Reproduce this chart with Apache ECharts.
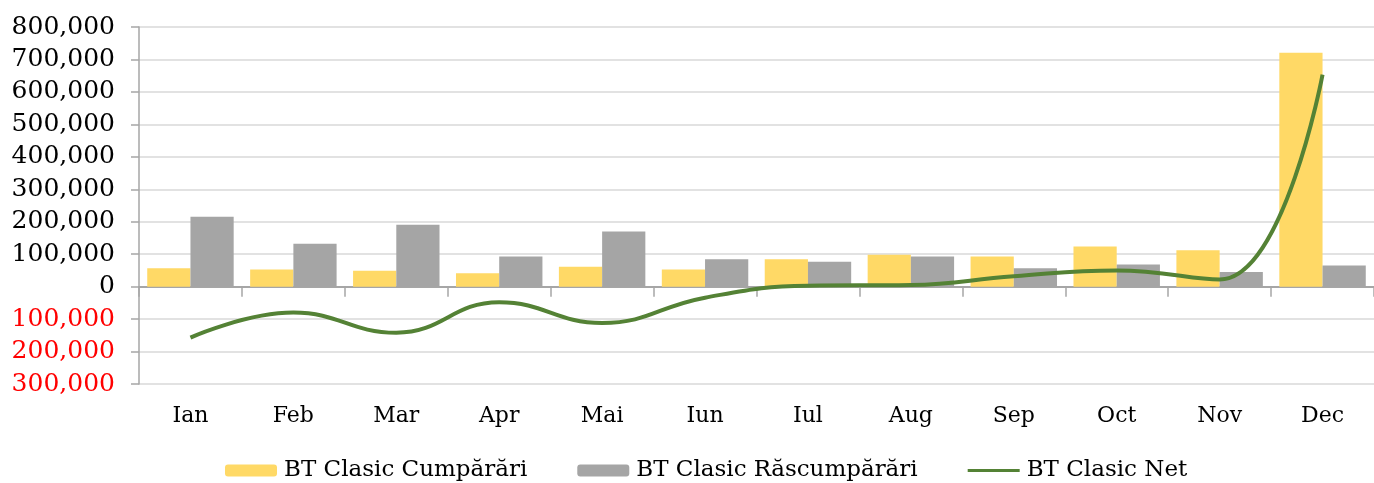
<!DOCTYPE html>
<html><head><meta charset="utf-8">
<script src="https://cdn.jsdelivr.net/npm/echarts@6/dist/echarts.min.js"></script>
<style>html,body{margin:0;padding:0;background:#fff}#c{width:1374px;height:483px}</style>
</head><body><div id="c"></div>
<script>
const months = ['Ian','Feb','Mar','Apr','Mai','Iun','Iul','Aug','Sep','Oct','Nov','Dec'];
const cumparari = [57000, 53000, 49000, 41000, 61000, 53000, 84000, 98000, 92500, 124000, 112000, 721000];
const rascumparari = [215000, 132500, 191000, 92500, 170000, 84000, 77000, 92500, 56500, 68500, 45000, 65000];
const net = [-157000, -80000, -142000, -48000, -112000, -34000, 3000, 5000, 32000, 50000, 22000, 653000];
const seriesNames = ['BT Clasic Cumpărări', 'BT Clasic Răscumpărări', 'BT Clasic Net'];
const yMin = -300000, yMax = 800000, yStep = 100000;

const FONT = 'DejaVu Serif';
const fmt = v => Math.abs(v).toString().replace(/\B(?=(\d{3})+(?!\d))/g, ',');
const chart = echarts.init(document.getElementById('c'), null, {renderer: 'canvas'});
chart.setOption({
  animation: false,
  backgroundColor: '#fff',
  grid: {left: 139, right: 0, top: 27, bottom: 99, containLabel: false},
  legend: {
    top: 454, left: 220, itemGap: 50, itemWidth: 52, itemHeight: 12,
    textStyle: {fontFamily: FONT, fontSize: 23, color: '#000', padding: [0, 0, 0, 2]},
    data: [
      {name: seriesNames[0]},
      {name: seriesNames[1]},
      {name: seriesNames[2], icon: 'path://M0,0 M52,12 M0,4.5 L52,4.5 L52,7.5 L0,7.5 Z'}
    ]
  },
  xAxis: [
    {
      type: 'category', data: months, position: 'bottom',
      axisLine: {show: true, onZero: true, lineStyle: {color: '#A6A6A6', width: 2}},
      axisTick: {show: true, length: 10, lineStyle: {color: '#A6A6A6', width: 1.5}},
      axisLabel: {show: false}, splitLine: {show: false}
    },
    {
      type: 'category', data: months, position: 'bottom', offset: 0,
      axisLine: {show: false, onZero: false}, axisTick: {show: false},
      axisLabel: {show: true, margin: 21, fontFamily: FONT, fontSize: 22, color: '#000'},
      splitLine: {show: false}
    }
  ],
  yAxis: {
    type: 'value', min: yMin, max: yMax, interval: yStep,
    axisLine: {show: true, lineStyle: {color: '#A6A6A6', width: 1.5}},
    axisTick: {show: true, length: 8, lineStyle: {color: '#A6A6A6', width: 1.5}},
    axisLabel: {
      margin: 24, fontFamily: FONT, fontSize: 25,
      formatter: v => fmt(v),
      color: v => (Number(v) < 0 ? '#FF0000' : '#000')
    },
    splitLine: {show: true, lineStyle: {color: '#D9D9D9', width: 1.5}}
  },
  series: [
    {
      name: seriesNames[0], type: 'bar', data: cumparari, xAxisIndex: 0,
      barGap: '0%', barCategoryGap: '16%',
      itemStyle: {color: '#FFD966'}
    },
    {
      name: seriesNames[1], type: 'bar', data: rascumparari, xAxisIndex: 0,
      barGap: '0%', barCategoryGap: '16%',
      itemStyle: {color: '#A5A5A5'}
    },
    {
      name: seriesNames[2], type: 'line', data: net, xAxisIndex: 0,
      smooth: 0.45, symbol: 'none', showSymbol: false,
      lineStyle: {color: '#548235', width: 4},
      itemStyle: {color: '#548235'}, z: 5
    }
  ]
});
</script></body></html>
